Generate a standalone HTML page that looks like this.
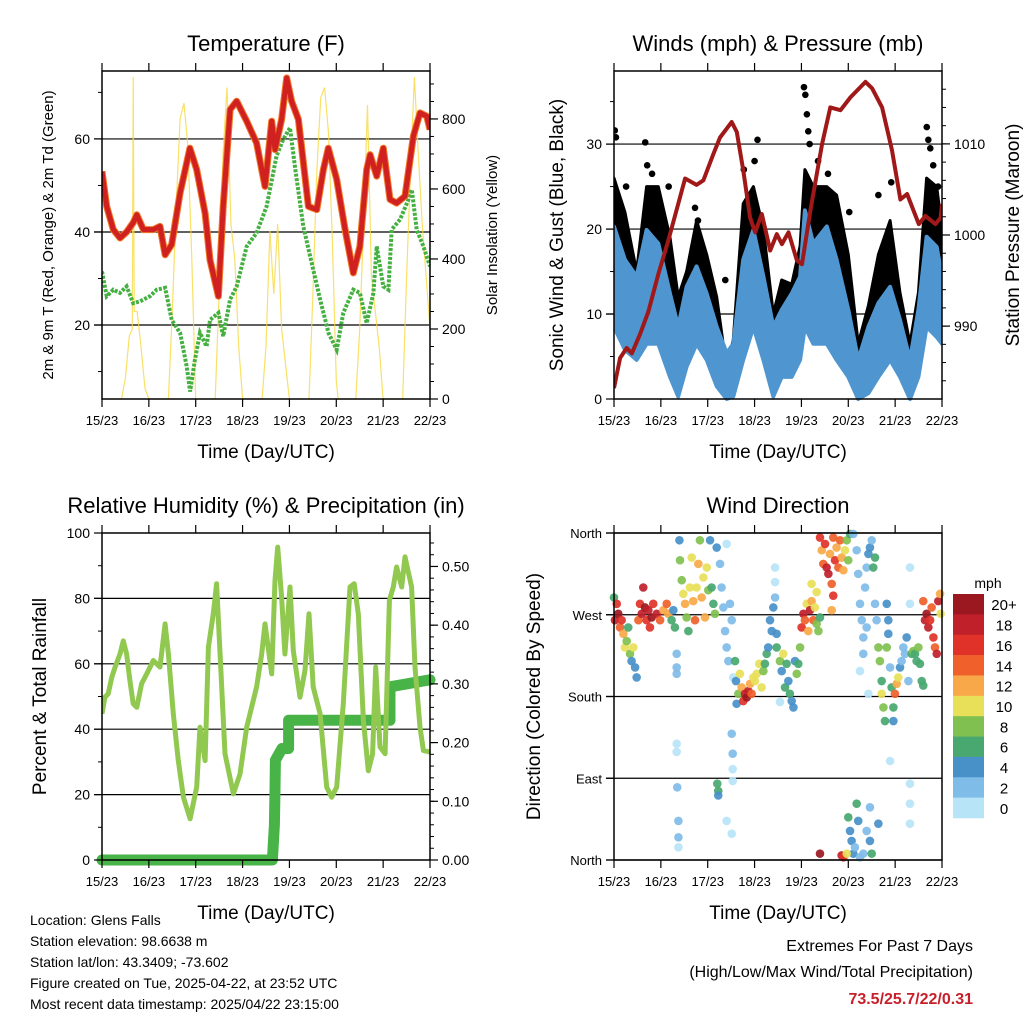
<!DOCTYPE html>
<html><head><meta charset="utf-8"><style>
html,body{margin:0;padding:0;background:#fff;}
svg{display:block;font-family:"Liberation Sans",Arial,sans-serif;}
</style></head><body>
<svg id="chart" width="1024" height="1024" viewBox="0 0 1024 1024" xmlns="http://www.w3.org/2000/svg">
<rect width="1024" height="1024" fill="#fff"/>
<g id="layer"></g>
<g font-size="14" fill="#000">
<text x="30" y="925">Location: Glens Falls</text>
<text x="30" y="946">Station elevation: 98.6638 m</text>
<text x="30" y="967">Station lat/lon: 43.3409; -73.602</text>
<text x="30" y="988">Figure created on Tue, 2025-04-22, at 23:52 UTC</text>
<text x="30" y="1009">Most recent data timestamp: 2025/04/22 23:15:00</text>
</g>
<g text-anchor="end">
<text x="973" y="951" font-size="16">Extremes For Past 7 Days</text>
<text x="973" y="977" font-size="16">(High/Low/Max Wind/Total Precipitation)</text>
<text x="973" y="1004" font-size="16" font-weight="bold" fill="#c8202a">73.5/25.7/22/0.31</text>
</g>
</svg>
<script>
// ---------- DATA ----------
const dayLabels=["15/23","16/23","17/23","18/23","19/23","20/23","21/23","22/23"];
// Temperature (hours since 15/23, degF)
const tempHours=[0,2.4,5.8,9.2,12.6,16,17.8,21.2,26.3,29.7,32.3,35.7,40,45,48.5,52.8,55.3,59.6,62.1,65.6,69,74.1,79.2,83.5,86.9,88.6,92,94.6,97.1,100.6,105.7,110,113.4,115.9,120.2,124.5,128.7,132.1,135.6,137.3,140.7,144.1,147.5,150.9,155.2,159.5,162.9,166.3,168];
const tempValues=[53,45.5,40.5,38.7,40,42,43.7,40.5,40.5,41.2,35.1,37.3,48.4,58,53.4,44,34,26.2,45.5,66.3,68.1,63.8,59.1,49.8,63.8,57.7,64.2,73.1,68.1,64.2,45.5,44.8,53.4,58,51.3,40.5,31.2,36.9,53.4,56.6,52,58,47,46.2,47.7,60.6,65.6,64.9,62];
const dewHours=[0,2.4,5.8,9.2,12.6,16,19.5,24.6,28,32.3,35.7,40,43.4,45.1,47.6,50.2,53.6,55.3,59.6,62.1,65.6,69,74.1,79.2,84.3,89.4,92.8,96.3,98.8,103.1,107.4,111.7,116,120.2,123.6,128.7,132.1,135.6,139,140.7,144.1,146.7,148.4,152.7,157,158.7,161.2,164.6,168];
const dewValues=[31.5,26.2,27.6,26.9,28.3,24.7,25.1,26.2,27.6,28,21.1,18.3,11.1,5.7,12.5,18.3,15.4,21.1,22.6,17.6,25.5,28.3,36.9,39.8,45.5,56.3,59.9,62.4,54.1,41.2,33.3,25.5,18.3,14.7,22.6,27.6,26.9,20.4,26.9,36.9,28.3,27.6,40.5,42.7,47,49.1,40.5,36.9,32.6];
const solarHours=[0,10,12,14,15.5,16,16.5,18,20,22,24,34,36,38,40,42,44,46,48,58,60,62,64,66,68,70,72,82,84,86,88,90,92,94,96,106,108,110,112,114,116,118,120,121,130,132,134,136,138,140,142,144,154,156,158,160,162,164,166,168];
const solarValues=[0,0,60,180,200,920,250,250,150,30,0,0,250,550,800,845,720,400,0,0,300,700,890,500,400,150,0,0,150,480,300,500,200,100,0,0,300,650,860,890,760,450,50,0,0,200,500,840,350,250,150,0,0,350,650,920,700,500,350,200];
// Winds (mph) & pressure (mb)
const windHours=[0,5.6,11.6,16.7,22.7,28.7,32.9,37.2,42.3,47.5,52.6,57.7,61.1,66.2,71.4,76.5,81.6,85.9,91,95.3,97.8,102.1,109,114,120,125.1,130.3,135.4,141.4,146.5,151.6,155.9,160.1,165.3,168];
const windHigh=[20.3,16.4,14.4,19.9,18.3,12.4,8.5,13.2,15.6,12.4,8.5,5.4,6.5,16.4,19.9,14.4,8.5,10.5,12.4,14.4,22.2,18.3,20.3,16.4,10.5,4.6,8.5,11.3,13.2,9.3,4.6,10.5,19.1,17.9,14.4];
const windLow=[8.5,5.8,4.6,6.5,6.5,2.6,0.3,3.8,6.5,4.6,1.5,0,0.3,4.6,8.5,4.6,0.3,2.6,2.6,4.6,8.5,6.5,6.5,4.6,2.6,0,0.7,2.6,4.6,2.6,0,2.6,8.5,7.3,6.5];
const gustHigh=[26,22,15,25,25,19,12,15,21,17,12,3.5,7,23,25,20,10,14,13.5,18,27,25,25,24,17,6.5,11,17,21,12.5,6.5,12.5,26,25,20];
const gustLow=[12.4,10.5,9.3,14.4,12.4,8.5,4.6,7.7,12.4,10.5,3.4,0.3,1.5,10.5,14.4,9.3,2.6,6.5,5.4,8.5,19.5,14.4,14.4,12.4,6.5,1.5,2.6,6.5,8.5,4.6,0.7,5.4,16.4,15.6,12.4];
const gustPeakHours=[0.4,1,6.2,16,17,19.5,28,41.5,43,57,66.5,72,73.5,97.3,98,98.8,99.5,100.2,104.5,109.6,120.5,135.4,142,160.2,161,162,163.5,166];
const gustPeakValues=[31.6,30.8,25,30.2,27.5,26.5,25,22.5,21,14,27,28,30.5,36.7,35.8,33.5,31.5,30,28,26.5,22,24,25.5,32,30.5,29.5,27.5,25];
const presHours=[0,3.1,6.5,9.1,13.3,17.6,22.7,27.8,32.1,36.4,42.3,45.8,50.9,54.3,60.3,62.9,66.3,69.7,72.3,75.7,80,83.4,86,89.4,93.7,96.3,100.6,106.6,110.8,116,121.1,128.8,132.2,137.3,142.4,146.7,150.1,156.1,159.5,164.6,167.3,168];
const presValues=[983.2,986.5,987.6,987,989.1,991.6,995.7,999.4,1002.8,1006.2,1005.5,1006,1008.9,1010.7,1012.4,1011.3,1007,1001.9,1000.3,1002.3,998.3,1000.1,999,1000.3,997.2,996.8,1002.7,1010,1014,1013.7,1015.1,1016.8,1016.1,1014,1009.3,1003.9,1004.5,1001.2,1002.1,1001.2,1001.9,1003.4];
// RH (%) and precip (in)
const rhHours=[0,1.5,3.2,5,6.7,9.2,10.9,12.6,14.3,16,17.8,20.3,22.9,26.3,29.7,32.3,34,36.5,39.1,41.7,45.1,48.5,50.2,52.8,54.5,57,58.7,61.3,63,67.3,70.7,74.1,79.2,81.8,83.5,86.9,88.6,90,92,93.7,96.3,98,101.4,104,106,108.2,111.7,115.1,117.6,120.2,123.6,127,129.2,131.3,133.9,136.4,138.6,140.2,142.4,145,147.2,149.2,150.9,153.5,155.2,158.6,160.3,162.9,164.6,168];
const rhValues=[44.7,49.8,50.8,55.9,59,63,67,63,54.9,47.8,46.7,53.9,56.9,61,59,72.2,63,44.7,30.4,19.2,12.6,22.3,40.6,30.4,65.1,75.3,84.5,52.9,32.5,20.2,26.3,40.6,52.9,63,72.2,56.9,85.5,95.7,80.4,63,83.5,64,49.8,58,75.3,52.9,44.7,22.3,19.2,22.3,47.8,83.5,84.5,75.3,42.7,27.3,32.5,59,34.6,32.5,79.4,83.5,89.6,83.5,92.7,83.5,59,40.6,33.5,33];
const precipHours=[0,87.3,88.3,88.6,88.8,92.2,95.6,95.6,139.8,147.5,147.5,168];
const precipValues=[0,0,0.06,0.12,0.17,0.19,0.19,0.238,0.238,0.238,0.295,0.307];
// Wind direction scatter
const dirHours=[0,0.5,1.4,2.2,3.1,3.9,4.8,5.6,6.5,7.3,8.2,9,9.9,10.8,11.6,12.5,13.3,14.2,15,15.9,16.7,17.6,18.4,19.3,20.1,21.9,23.6,25.3,27,27.8,29.5,30.4,31.2,32.1,32.1,32.1,32.1,32.1,32.4,33,33,33,33.5,33.8,34.7,35.5,36.4,37.2,38.1,38.9,39.8,40.6,41.5,42.3,43.2,44,44.9,45.8,46.6,47.5,48.3,49.2,50,50.9,51.7,52.6,52.9,53.4,53.4,54.3,55.1,56,56.9,57.7,57.7,58.6,59.4,60.3,61.1,60.3,60.8,60.8,60.8,60.3,57.7,62,62.5,62.8,63.7,64.5,65.4,66.2,67.1,68,68.8,69.7,70.5,71.4,72.2,73.1,74.4,75.6,76.5,77.3,78.2,79,79.9,80.8,81.6,82.5,82.5,82.5,83.3,83.3,85,85.9,86.7,87.6,88.4,89.3,90.1,91,91.9,92.7,93.6,94.4,95.3,85,96.1,97,97.8,98.7,99.5,100.4,101.2,102.1,102.9,103.8,104.7,105.5,101.2,103.8,105.5,106.4,107.2,108.1,108.9,109.8,110.6,111.5,112.3,113.2,114,114.9,115.8,116.6,117.5,118.3,119.2,120,120.9,112.3,111.5,122.6,124.3,125.1,126,126.9,127.7,128.6,129.4,130.3,131.1,132,132.8,133.7,126,130.3,127.7,129.4,133.7,134.5,120,120.9,121.7,122.6,123.4,124.3,125.1,126,127.7,129.4,131.1,132,116.6,117.5,119.2,105.5,135.4,131.1,135.4,136.2,137.1,137.1,138,138.8,139.7,139.7,140.5,140.5,141.4,142.2,143.1,143.1,143.9,144.8,145.6,146.5,147.3,148.2,149,149.9,150.8,151.6,151.6,151.6,151.6,151.6,141.4,152.5,153.3,154.2,155,155.9,156.7,157.6,158.4,158.4,159.3,160.1,161,161.9,162.7,163.6,164.4,165.3,166.1,167,167.3];
const dirDegrees=[289,264,282,271,256,264,249,234,241,256,227,219,234,212,201,264,282,271,300,278,264,275,256,267,282,271,264,275,282,271,264,275,256,227,212,205,128,119,80,43,25,14,352,330,308,293,282,267,252,300,333,285,264,300,326,352,289,311,267,322,297,352,300,282,271,344,84,76,71,326,300,278,252,348,234,219,282,264,201,139,117,100,87,29,43,219,197,172,183,205,190,175,183,179,186,194,183,201,197,205,216,190,208,216,227,234,264,252,278,322,306,289,249,234,219,208,227,190,216,197,183,175,168,219,205,216,234,174,256,271,264,282,252,275,285,264,278,260,252,267,304,295,355,341,326,348,322,315,337,304,355,330,344,322,352,333,319,341,352,330,359,291,275,359,341,315,282,264,245,300,322,337,344,352,322,333,208,183,227,256,282,264,47,32,21,7,14,62,43,3,7,32,21,7,5,3,7,7,40,58,234,219,197,183,168,153,282,234,264,249,212,190,168,153,183,194,201,212,219,234,227,245,197,322,282,84,62,40,109,227,230,227,219,234,216,197,192,285,264,271,256,264,278,245,234,227,285,293,271];
const dirSpeeds=[6,18,16,20,14,16,12,10,8,6,8,4,10,4,4,14,16,18,18,20,16,18,16,20,16,18,14,12,14,12,6,4,6,2,2,3,1,1,2,2,2,1,4,8,8,10,12,8,6,10,10,12,14,10,12,8,12,10,12,10,8,4,6,6,8,4,6,6,4,2,2,2,2,1,2,2,2,2,1,2,2,1,1,1,1,6,4,4,8,10,12,16,18,20,18,12,14,10,10,10,10,10,8,6,6,4,4,4,4,1,1,2,4,6,8,4,10,6,6,4,6,4,4,4,8,6,8,1,16,18,14,10,12,18,12,14,10,8,8,6,10,10,16,12,14,16,18,18,12,14,14,16,12,14,14,12,12,10,8,8,6,16,12,2,2,2,2,2,3,3,3,4,4,3,6,6,1,1,2,2,3,3,6,4,4,4,3,6,4,3,2,3,4,6,18,16,10,20,4,2,8,8,6,10,8,6,4,8,4,4,2,6,6,4,14,12,10,4,2,2,2,4,2,1,1,1,1,1,1,6,8,6,6,8,6,6,6,14,18,20,18,16,14,16,14,18,18,12,10];
const speedColors=["#b8e4f8","#80bce8","#4890c8","#48a870","#80c050","#e8e058","#f8a848","#f0602a","#e03228","#c0202a","#9b1820"];
const speedLabels=["0","2","4","6","8","10","12","14","16","18","20+"];

// ---------- HELPERS ----------
const NS="http://www.w3.org/2000/svg";
const layer=document.getElementById('layer');
function el(tag,attrs,parent,text){const e=document.createElementNS(NS,tag);for(const k in attrs)e.setAttribute(k,attrs[k]);if(text!==undefined)e.textContent=text;(parent||layer).appendChild(e);return e;}
function lin(d0,d1,r0,r1){return v=>r0+(v-d0)/(d1-d0)*(r1-r0);}

function panel(cfg){
  const g=el('g',{});
  
  
  const {x0,x1,y0,y1}=cfg;
  const sx=lin(0,168,x0,x1);
  const sy=lin(cfg.ly[0],cfg.ly[1],y1,y0);
  const sy2=cfg.ry?lin(cfg.ry[0],cfg.ry[1],y1,y0):null;
  const t=el('text',{x:(x0+x1)/2,y:y0-20,'font-size':22,'text-anchor':'middle'},g,cfg.title);
  
  
  const grid=el('g',{},g);
  
  
  cfg.lticks.forEach(v=>{if(cfg.grid.includes(v))el('line',{x1:x0-8,x2:x1,y1:sy(v),y2:sy(v),stroke:'#000','stroke-width':1.2},grid);});
  const plot=el('g',{},g);
  
  
  cfg.draw(plot,sx,sy,sy2);
  el('rect',{x:x0,y:y0,width:x1-x0,height:y1-y0,fill:'none',stroke:'#000','stroke-width':1.5},g);
  const xa=el('g',{},g);
  
  
  dayLabels.forEach((lab,i)=>{const x=sx(i*24);
    el('line',{x1:x,x2:x,y1:y1,y2:y1+8,stroke:'#000','stroke-width':1.2},xa);
    el('line',{x1:x,x2:x,y1:y0,y2:y0-8,stroke:'#000','stroke-width':1.2},xa);
    el('text',{x:x,y:y1+26,'font-size':13,'text-anchor':'middle'},xa,lab);});
  const xt=el('text',{x:(x0+x1)/2,y:y1+59,'font-size':19,'text-anchor':'middle'},xa,'Time (Day/UTC)');
  
  
  const ya=el('g',{},g);
  
  
  cfg.lticks.forEach(v=>{el('line',{x1:x0-8,x2:x0,y1:sy(v),y2:sy(v),stroke:'#000','stroke-width':1.2},ya);});
  (cfg.lminor||[]).forEach(v=>{el('line',{x1:x0-4,x2:x0,y1:sy(v),y2:sy(v),stroke:'#000','stroke-width':1},ya);});
  cfg.lticks.forEach((v,i)=>{el('text',{x:x0-12,y:sy(v)+5,'font-size':cfg.lfs||14,'text-anchor':'end'},ya,cfg.llabels[i]);});
  const lt=el('text',{x:cfg.ltx,y:(y0+y1)/2,'font-size':cfg.ltfs,'text-anchor':'middle',transform:`rotate(-90 ${cfg.ltx} ${(y0+y1)/2})`},ya,cfg.ltitle);
  
  
  if(sy2){
    const ra=el('g',{},g);
    
    
    cfg.rticks.forEach((v,i)=>{el('line',{x1:x1,x2:x1+8,y1:sy2(v),y2:sy2(v),stroke:'#000','stroke-width':1.2},ra);
      el('text',{x:x1+12,y:sy2(v)+5,'font-size':14},ra,cfg.rlabels[i]);});
    cfg.rminor.forEach(v=>{el('line',{x1:x1,x2:x1+4,y1:sy2(v),y2:sy2(v),stroke:'#000','stroke-width':1},ra);});
    const rt=el('text',{x:cfg.rtx,y:(y0+y1)/2,'font-size':cfg.rtfs,'text-anchor':'middle',transform:`rotate(-90 ${cfg.rtx} ${(y0+y1)/2})`},ra,cfg.rtitle);
    
    
  }
}
function path(hs,vs,sx,sy){return hs.map((h,i)=>(i?'L':'M')+sx(h).toFixed(1)+','+sy(vs[i]).toFixed(1)).join('');}
function band(hs,hi,lo,sx,sy){let d=hs.map((h,i)=>(i?'L':'M')+sx(h).toFixed(1)+','+sy(hi[i]).toFixed(1)).join('');
  for(let i=hs.length-1;i>=0;i--)d+='L'+sx(hs[i]).toFixed(1)+','+sy(lo[i]).toFixed(1);return d+'Z';}
function range(a,b,s){const r=[];for(let v=a;v<=b+1e-9;v+=s)r.push(+v.toFixed(3));return r;}

// ---------- PANEL 1 ----------
panel({name:'temperature-panel',title:'Temperature (F)',x0:102,x1:430,y0:71,y1:399,ly:[4.1,74.6],
  lticks:[20,40,60],llabels:['20','40','60'],grid:[20,40,60],lminor:[10,30,50,70],
  ltitle:'2m & 9m T (Red, Orange) & 2m Td (Green)',ltx:53,ltfs:15,
  ry:[0,937],rticks:[0,200,400,600,800],rlabels:['0','200','400','600','800'],rminor:range(50,900,50),
  rtitle:'Solar Insolation (Yellow)',rtx:497,rtfs:15,
  draw:(g,sx,sy,sy2)=>{
    const cp=el('clipPath',{id:'c1'},g);el('rect',{x:102,y:71,width:328,height:328},cp);
    const gg=el('g',{'clip-path':'url(#c1)'},g);
    const s=el('path',{d:path(solarHours,solarValues,sx,sy2),fill:'none',stroke:'#f8d840','stroke-width':1.2,'stroke-opacity':0.8},gg);
    
    
    const d=el('path',{d:path(dewHours,dewValues,sx,sy),fill:'none',stroke:'#44b040','stroke-width':4,'stroke-dasharray':'3 1.5'},gg);
    
    
    const o=el('path',{d:path(tempHours,tempValues,sx,sy),fill:'none',stroke:'#f07828','stroke-width':7,'stroke-linejoin':'round'},gg);
    
    
    const r=el('path',{d:path(tempHours,tempValues,sx,sy),fill:'none',stroke:'#d02020','stroke-width':5,'stroke-linejoin':'round'},gg);
    
    
  }});

// ---------- PANEL 2 ----------
panel({name:'winds-pressure-panel',title:'Winds (mph) & Pressure (mb)',x0:614,x1:942,y0:71,y1:399,ly:[0,38.6],
  lticks:[0,10,20,30],llabels:['0','10','20','30'],grid:[10,20,30],lminor:[5,15,25,35],
  ltitle:'Sonic Wind & Gust (Blue, Black)',ltx:563,ltfs:19,
  ry:[982,1018],rticks:[990,1000,1010],rlabels:['990','1000','1010'],rminor:range(984,1016,2),
  rtitle:'Station Pressure (Maroon)',rtx:1019,rtfs:19,
  draw:(g,sx,sy,sy2)=>{
    const cp=el('clipPath',{id:'c2'},g);el('rect',{x:614,y:68,width:328,height:334},cp);
    const gg=el('g',{'clip-path':'url(#c2)'},g);
    const gb=el('path',{d:band(windHours,gustHigh,gustLow,sx,sy),fill:'#000',stroke:'#000','stroke-width':3,'stroke-linejoin':'round'},gg);
    
    
    gustPeakHours.forEach((h,i)=>{const c=el('circle',{cx:sx(h),cy:sy(gustPeakValues[i]),r:3.3,fill:'#000'},gg);
      
      });
    const wb=el('path',{d:band(windHours,windHigh,windLow,sx,sy),fill:'#4f96d0',stroke:'#4f96d0','stroke-width':4,'stroke-linejoin':'round'},gg);
    
    
    const p=el('path',{d:path(presHours,presValues,sx,sy2),fill:'none',stroke:'#a01818','stroke-width':4,'stroke-linejoin':'round'},gg);
    
    
  }});

// ---------- PANEL 3 ----------
panel({name:'humidity-precip-panel',title:'Relative Humidity (%) & Precipitation (in)',x0:102,x1:430,y0:533,y1:860,ly:[0,100],
  lticks:[0,20,40,60,80,100],llabels:['0','20','40','60','80','100'],grid:[20,40,60,80],lminor:[10,30,50,70,90],
  ltitle:'Percent & Total Rainfall',ltx:46,ltfs:19,
  ry:[0,0.557],rticks:[0,0.1,0.2,0.3,0.4,0.5],rlabels:['0.00','0.10','0.20','0.30','0.40','0.50'],rminor:range(0.02,0.54,0.02),
  rtitle:'',rtx:1100,rtfs:1,
  draw:(g,sx,sy,sy2)=>{
    const cp=el('clipPath',{id:'c3'},g);el('rect',{x:94,y:533,width:346,height:335},cp);
    const gg=el('g',{'clip-path':'url(#c3)'},g);
    const cp2=el('clipPath',{id:'c3b'},g);el('rect',{x:102,y:533,width:328,height:327},cp2);
    const rh=el('path',{d:path(rhHours,rhValues,sx,sy),fill:'none',stroke:'#90c850','stroke-width':5,'stroke-linejoin':'round','clip-path':'url(#c3b)'},g);
    
    
    const pr=el('path',{d:path(precipHours,precipValues,sx,sy2),fill:'none',stroke:'#48b448','stroke-width':11,'stroke-linejoin':'round','stroke-linecap':'round'},gg);
    
    
  }});

// ---------- PANEL 4 ----------
panel({name:'wind-direction-panel',title:'Wind Direction',x0:614,x1:942,y0:533,y1:860,ly:[0,360],
  lticks:[0,90,180,270,360],llabels:['North','East','South','West','North'],grid:[90,180,270,360,0],lfs:13,
  ltitle:'Direction (Colored By Speed)',ltx:540,ltfs:19,
  draw:(g,sx,sy)=>{
    dirHours.forEach((h,i)=>{const idx=Math.min(10,Math.floor(dirSpeeds[i]/2));
      const c=el('circle',{cx:sx(h),cy:sy(dirDegrees[i]),r:4.3,fill:speedColors[idx],'fill-opacity':0.92},g);
      
      });
  }});

// colorbar
const cb=el('g',{});


el('text',{x:988,y:588,'font-size':14,'text-anchor':'middle'},cb,'mph');
const bh=(818-594)/11;
for(let i=0;i<11;i++){const k=10-i;const y=594+i*bh;
  const r=el('rect',{x:953,y:y,width:31,height:bh+0.3,fill:speedColors[k]},cb);
  
  
  el('text',{x:1004,y:y+bh/2+6,'font-size':15,'text-anchor':'middle'},cb,speedLabels[k]);}
</script>
</body></html>
